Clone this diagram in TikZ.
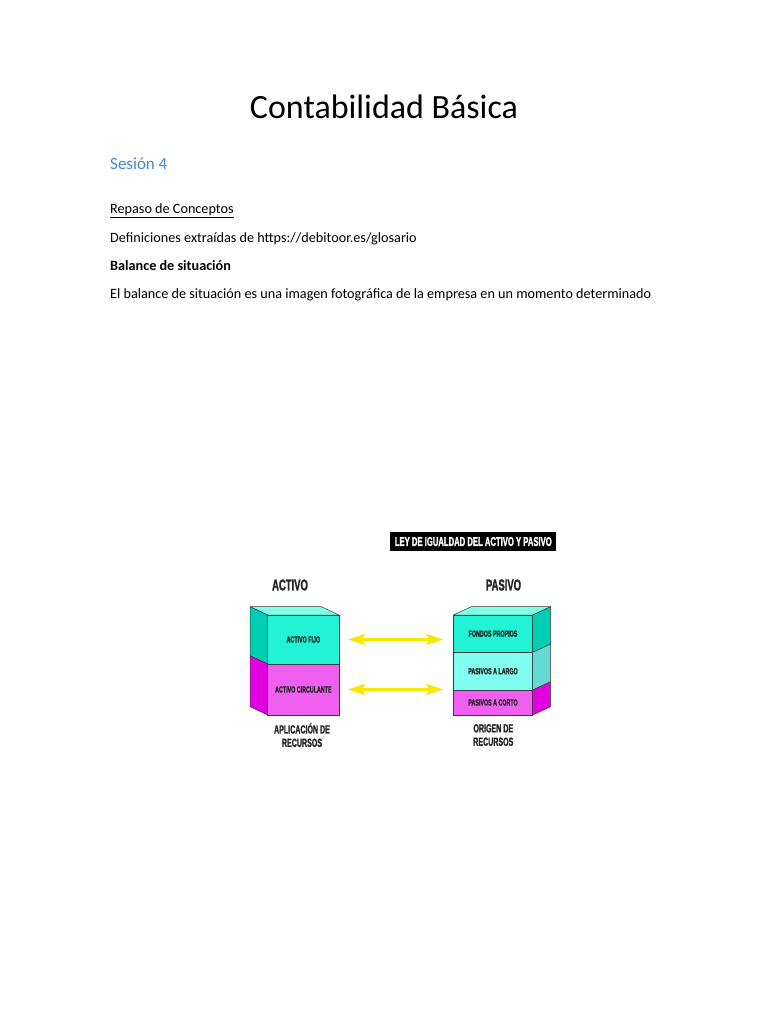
\documentclass[tikz,border=0pt]{standalone}
\usepackage{fontspec}
\setmainfont{Carlito}
\newfontfamily\diagfont[FakeStretch=0.6,FakeBold=1.4]{Liberation Sans Bold}
\usetikzlibrary{arrows.meta,calc,positioning}
\definecolor{aqua}{RGB}{34,242,214}
\definecolor{aquatop}{RGB}{128,255,232}
\definecolor{aquaside}{RGB}{0,206,178}
\definecolor{pale}{RGB}{128,255,240}
\definecolor{paleside}{RGB}{100,218,210}
\definecolor{mag}{RGB}{240,96,240}
\definecolor{magside}{RGB}{224,0,224}
\definecolor{heading}{RGB}{68,136,208}
\definecolor{arrowyellow}{RGB}{248,232,0}
\definecolor{edge}{RGB}{60,60,60}

\begin{document}
\begin{tikzpicture}[x=1pt,y=-1pt,
  body/.style={anchor=base west,inner sep=0pt,font=\fontsize{14.2}{17}\selectfont},
  face/.style={draw=edge,line width=0.5pt,inner sep=0pt,outer sep=0pt,
    font=\diagfont\fontsize{8.9}{9}\selectfont,text=black!85},
  shade/.style={draw=edge,line width=0.5pt,line join=round},
  head/.style={inner sep=0pt,font=\diagfont\fontsize{15.8}{17}\selectfont,text=black!85},
  caption/.style={inner sep=0pt,align=center,font=\diagfont\fontsize{11.8}{13.4}\selectfont,text=black!85},
  pair/.style={draw=arrowyellow,line width=2.7pt,
    {Stealth[length=17pt,width=11pt,inset=3pt]}-{Stealth[length=17pt,width=11pt,inset=3pt]}}]
\useasboundingbox[fill=white] (0,0) rectangle (768,1024);

% page text
\node[anchor=base,inner sep=0pt,font=\fontsize{34}{40}\selectfont] (title) at (384,119) {Contabilidad Básica};
\node[body,text=heading,font=\fontsize{17}{20}\selectfont] (sesion) at (110,170) {Sesión 4};
\node[body] (repaso) at (110,214) {\underline{Repaso de Conceptos}};
\node[body] (fuente) at (110,242) {Definiciones extraídas de https://debitoor.es/glosario};
\node[body,font=\fontsize{14.2}{17}\selectfont\bfseries] (balance) at (110,270) {Balance de situación};
\node[body] (defin) at (110,298) {El balance de situación es una imagen fotográfica de la empresa en un momento determinado};

% diagram
\node[fill=black,text=white,inner sep=0pt,minimum width=166pt,minimum height=19.7pt,
  font=\diagfont\fontsize{12.8}{13}\selectfont] (ley) at (473.3,541.5) {LEY DE IGUALDAD DEL ACTIVO Y PASIVO};
\node[head] (activo) at (290,585) {ACTIVO};
\node[head] (pasivo) at (503.5,585) {PASIVO};

\node[face,fill=aqua,minimum width=71.3pt,minimum height=49pt,anchor=north west] (fijo) at (267.7,615) {ACTIVO FIJO};
\node[face,fill=mag,minimum width=71.3pt,minimum height=51pt,below=0pt of fijo] (circ) {ACTIVO CIRCULANTE};
\fill[aquatop,shade] (fijo.north west) -- ++(-17.7,-8.3) -- ($(fijo.north east)+(-17.7,-8.3)$) -- (fijo.north east) -- cycle;
\fill[aquaside,shade] (fijo.north west) -- ++(-17.7,-8.3) -- ($(fijo.south west)+(-17.7,-8.3)$) -- (fijo.south west) -- cycle;
\fill[magside,shade] (circ.north west) -- ++(-17.7,-8.3) -- ($(circ.south west)+(-17.7,-8.3)$) -- (circ.south west) -- cycle;

\node[face,fill=aqua,minimum width=79.4pt,minimum height=37.3pt,anchor=north west] (fondos) at (453.3,615) {FONDOS PROPIOS};
\node[face,fill=pale,minimum width=79.4pt,minimum height=37.7pt,below=0pt of fondos] (largo) {PASIVOS A LARGO};
\node[face,fill=mag,minimum width=79.4pt,minimum height=25pt,below=0pt of largo] (corto) {PASIVOS A CORTO};
\fill[aquatop,shade] (fondos.north west) -- ++(18,-8.3) -- ($(fondos.north east)+(18,-8.3)$) -- (fondos.north east) -- cycle;
\fill[aquaside,shade] (fondos.north east) -- ++(18,-8.3) -- ($(fondos.south east)+(18,-8.3)$) -- (fondos.south east) -- cycle;
\fill[paleside,shade] (largo.north east) -- ++(18,-8.3) -- ($(largo.south east)+(18,-8.3)$) -- (largo.south east) -- cycle;
\fill[magside,shade] (corto.north east) -- ++(18,-8.3) -- ($(corto.south east)+(18,-8.3)$) -- (corto.south east) -- cycle;

\draw[pair,shorten <=9pt,shorten >=10pt] (fijo.east) -- (fondos.west |- fijo.east);
\draw[pair,shorten <=9pt,shorten >=10pt] (circ.east) -- (largo.west |- circ.east);

\node[caption] (aplic) at (302,735) {APLICACIÓN DE\\RECURSOS};
\node[caption] (origen) at (493.3,735) {ORIGEN DE\\RECURSOS};
\end{tikzpicture}
\end{document}
